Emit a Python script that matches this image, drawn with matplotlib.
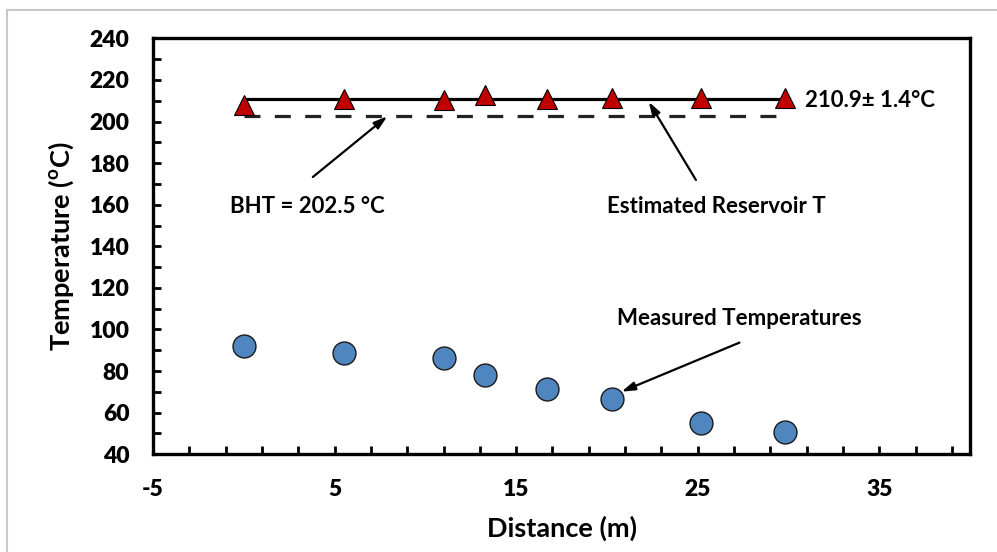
import matplotlib
matplotlib.use("Agg")
import matplotlib.pyplot as plt
import numpy as np
from matplotlib.patches import Rectangle

plt.rcParams['font.family'] = ['Lato', 'DejaVu Sans']
plt.rcParams['axes.unicode_minus'] = False
plt.rcParams['mathtext.fontset'] = 'custom'
plt.rcParams['mathtext.bf'] = 'Lato:bold'
plt.rcParams['mathtext.rm'] = 'Lato:bold'

# distance (m) of each measurement
distance = [0, 5.5, 11, 13.3, 16.7, 20.3, 25.2, 29.8]
measured_T = [92.1, 88.8, 86.2, 78.3, 71.5, 66.6, 55.2, 50.9]
estimated_T = [207.8, 210.8, 210.4, 212.8, 210.9, 211.5, 211.3, 211.3]
mean_T = 210.9
bht = 202.5

fig = plt.figure(figsize=(9.97, 5.52), dpi=100)
ax = fig.add_axes([0.1535, 0.177, 0.8195, 0.7536])

# light grey frame round the chart
fig.patches.append(Rectangle((7/997, -0.1), 1.2, 1 - 10/552 + 0.1, transform=fig.transFigure,
                             fill=False, edgecolor='#c8c8c8', linewidth=1.5))

x0, x1 = min(distance), max(distance)
ax.plot([x0, x1], [mean_T, mean_T], color='black', lw=2.3, zorder=2)
ax.plot([x0, x1], [bht, bht], color='#222222', lw=2.3, dashes=(5, 4.5), zorder=2)
ax.plot(distance, estimated_T, ls='none', marker='^', ms=15, mfc='#c00000', mec='black', mew=0.8, zorder=3)
ax.plot(distance, measured_T, ls='none', marker='o', ms=16.5, mfc='#4f86c0', mec='#1a1a1a', mew=1.0, zorder=3)

ax.set_xlim(-5, 40)
ax.set_ylim(40, 240)
ax.set_xticks(np.arange(-5, 36, 10))
ax.set_xticks(np.arange(-5, 41, 2), minor=True)
ax.set_yticks(np.arange(40, 241, 20))
ax.set_yticks(np.arange(40, 241, 10), minor=True)
ax.tick_params(which='both', direction='in', length=6, width=2, labelsize=16.5)
ax.tick_params(axis='x', pad=18)
ax.tick_params(axis='y', pad=17)
for lab in ax.get_xticklabels() + ax.get_yticklabels():
    lab.set_fontweight('heavy')
for s in ax.spines.values():
    s.set_linewidth(2.4)

ax.set_xlabel('Distance (m)', fontsize=19.5, fontweight='bold', labelpad=11)
ax.set_ylabel(r'Temperature ($^{\mathbf{o}}$C)', fontsize=19.5, fontweight='bold', labelpad=10)

arrow = dict(arrowstyle='-|>,head_length=0.8,head_width=0.25', color='black', lw=1.6, shrinkA=0, shrinkB=0)
ax.annotate('', xy=(7.9, 202.5), xytext=(3.8, 173.3), arrowprops=arrow)
ax.annotate('', xy=(22.3, 209.5), xytext=(24.9, 171.9), arrowprops=arrow)
ax.annotate('', xy=(20.8, 70.1), xytext=(27.3, 93.7), arrowprops=arrow)

tkw = dict(fontsize=16, fontweight='bold', va='center')
ax.text(3.5, 158.9, 'BHT = 202.5 °C', ha='center', **tkw)
ax.text(26.0, 158.9, 'Estimated Reservoir T', ha='center', **tkw)
ax.text(30.9, 209.9, '210.9± 1.4°C', ha='left', **tkw)
ax.text(27.3, 105.5, 'Measured Temperatures', ha='center', **tkw)

fig.savefig('out.png', dpi=100)
